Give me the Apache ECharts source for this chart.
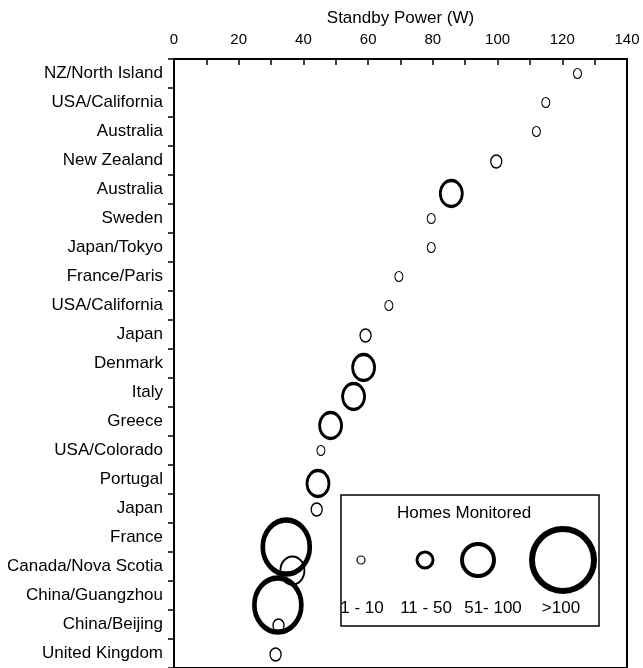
<!DOCTYPE html>
<html>
<head>
<meta charset="utf-8">
<script src="https://cdn.jsdelivr.net/npm/echarts@6/dist/echarts.min.js"></script>
<style>
  html, body { margin: 0; padding: 0; background: #fff; }
  #main { width: 643px; height: 668px; }
</style>
</head>
<body>
<div id="main"></div>
<script>
var categories = ['NZ/North Island', 'USA/California', 'Australia', 'New Zealand', 'Australia',
  'Sweden', 'Japan/Tokyo', 'France/Paris', 'USA/California', 'Japan', 'Denmark', 'Italy',
  'Greece', 'USA/Colorado', 'Portugal', 'Japan', 'France', 'Canada/Nova Scotia',
  'China/Guangzhou', 'China/Beijing', 'United Kingdom'];
var power = [124.7, 114.9, 112, 99.6, 85.7, 79.5, 79.5, 69.5, 66.4, 59.2, 58.6, 55.5,
  48.4, 45.4, 44.5, 44.1, 34.7, 36.6, 32.1, 32.3, 31.4];
// marker style class for each row (0 = small "o" ... 4 = biggest ring)
var markerKind = [0, 0, 0, 1, 3, 0, 0, 0, 0, 1, 3, 3, 3, 0, 3, 1, 4, 2, 4, 1, 1];
var xTicks = [0, 140, 20];
var legendTitle = 'Homes Monitored';
var legendLabels = ['1 - 10', '11 - 50', '51- 100', '>100'];

var kinds = [
  { size: [8, 10], border: 1.1, dy: 0 },
  { size: [11, 13], border: 1.4, dy: 1 },
  { size: [24, 28], border: 2, dy: 4 },
  { size: [22, 26], border: 3, dy: 4 },
  { size: [47, 54], border: 5, dy: 9.5 }
];

var font = 'Liberation Sans, Arial, sans-serif';

var points = [];
for (var i = 0; i < power.length; i++) {
  var k = kinds[markerKind[i]];
  points.push({
    value: [power[i], i],
    symbolSize: k.size,
    symbolOffset: [0, k.dy],
    itemStyle: { borderWidth: k.border }
  });
}

// legend box (drawn by hand, the chart's own legend can't do this layout)
var lx = [361, 425, 478, 563];
var lr = [4, 8, 16, 31];
var lw = [1.2, 3, 4, 6];
var lt = [362, 426, 493, 561];
var legendEls = [{
  type: 'rect', shape: { x: 341, y: 495, width: 258, height: 131 },
  style: { fill: '#fff', stroke: '#000', lineWidth: 1.5 }
}, {
  type: 'text', x: 464, y: 513,
  style: { text: legendTitle, fill: '#000', font: '17px ' + font, align: 'center', verticalAlign: 'middle' }
}];
for (var j = 0; j < legendLabels.length; j++) {
  legendEls.push({
    type: 'circle', shape: { cx: lx[j], cy: 560, r: lr[j] },
    style: { fill: 'none', stroke: '#000', lineWidth: lw[j] }
  });
  legendEls.push({
    type: 'text', x: lt[j], y: 608,
    style: { text: legendLabels[j], fill: '#000', font: '17px ' + font, align: 'center', verticalAlign: 'middle' }
  });
}

var myChart = echarts.init(document.getElementById('main'));
var option = {
  animation: false,
  backgroundColor: '#fff',
  textStyle: { fontFamily: font },
  grid: {
    left: 174, right: 16, top: 59, bottom: -4,
    show: true, borderColor: '#000', borderWidth: 2
  },
  xAxis: {
    type: 'value',
    position: 'top',
    min: xTicks[0], max: xTicks[1], interval: xTicks[2],
    name: 'Standby Power (W)',
    nameLocation: 'middle',
    nameGap: 31,
    nameTextStyle: { color: '#000', fontSize: 17 },
    axisLine: { show: true, lineStyle: { color: '#000', width: 2 } },
    axisTick: { show: true, inside: true, length: 6, lineStyle: { color: '#000', width: 1.5 } },
    minorTick: { show: true, splitNumber: 2, length: 6, lineStyle: { color: '#000', width: 1.5 } },
    axisLabel: { color: '#000', fontSize: 15, margin: 12 },
    splitLine: { show: false }
  },
  yAxis: {
    type: 'category',
    inverse: true,
    data: categories,
    axisLine: { show: true, lineStyle: { color: '#000', width: 2 } },
    axisTick: { show: true, length: 6, lineStyle: { color: '#000', width: 1.5 } },
    axisLabel: { color: '#000', fontSize: 17, margin: 11, interval: 0 },
    splitLine: { show: false }
  },
  series: [{
    type: 'scatter',
    symbol: 'circle',
    data: points,
    itemStyle: { color: 'rgba(0,0,0,0)', borderColor: '#000', opacity: 1 },
    emphasis: { disabled: true }
  }],
  graphic: legendEls
};
myChart.setOption(option);
</script>
</body>
</html>
